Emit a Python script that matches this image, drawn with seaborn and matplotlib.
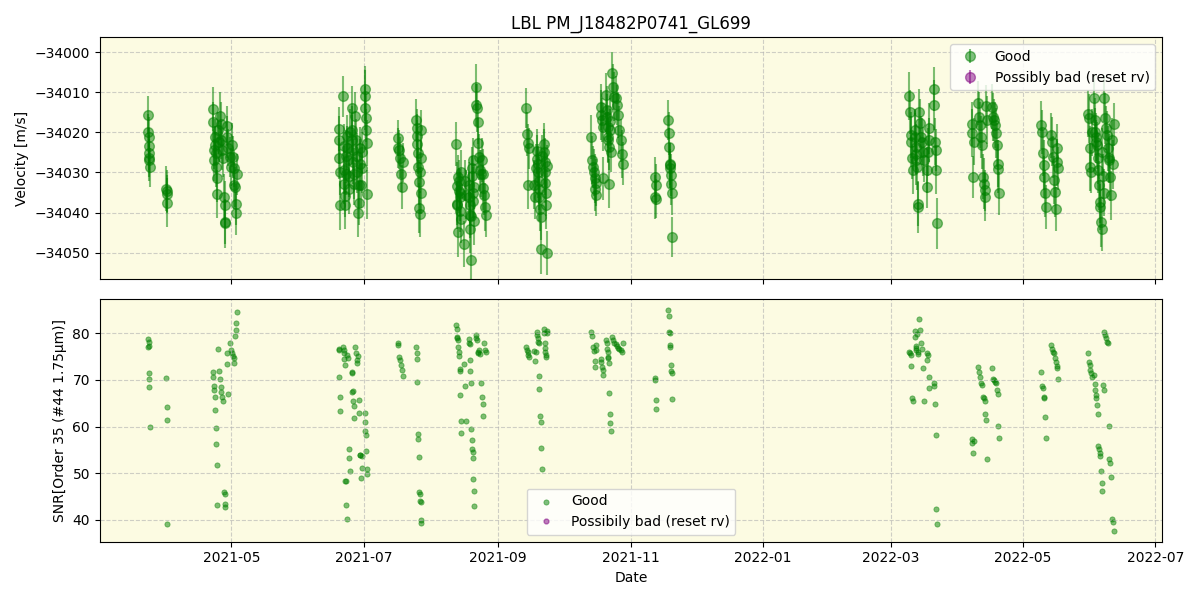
import matplotlib
matplotlib.use("Agg")
import matplotlib.pyplot as plt
import seaborn as sns
import numpy as np
import pandas as pd

# ---- data (days since 2021-03-01, RV [m/s], RV error, SNR) ----
start_date = "2021-03-01"

days = [
    22.6, 22.7, 22.8, 22.9, 23.0, 23.1, 23.2, 23.4,
    31.0, 31.1, 31.2, 31.3,
    52.5, 52.7, 52.9, 53.1, 53.3, 53.5, 53.8, 54.0, 54.2, 54.4,
    55.0, 55.3, 55.6, 56.0, 56.3, 56.6, 57.0,
    57.8, 57.9, 58.0, 58.1,
    59.0, 59.2, 59.4,
    60.6, 61.0, 61.4, 61.8, 62.1, 62.4, 62.7, 63.0, 63.3, 63.6,
    110.4, 110.6, 110.8, 111.0, 111.2,
    112.5, 112.7, 112.9, 113.1, 113.3, 113.5, 113.7, 113.9, 114.1,
    114.5, 114.8, 115.1, 115.4, 115.7,
    116.4, 116.6, 116.8, 117.0, 117.2, 117.4, 117.6,
    118.2, 118.5, 118.8, 119.1,
    119.6, 119.8, 120.0, 120.2, 120.4,
    120.8, 121.1, 121.4,
    122.4, 122.6, 122.8, 123.0, 123.2, 123.4, 123.6,
    137.6, 138.0, 138.4, 138.8, 139.2, 139.6, 140.0,
    146.2, 146.4, 146.6, 146.8, 147.0, 147.2, 147.4, 147.6, 147.8, 148.0, 148.2, 148.4, 148.6,
    164.6, 164.8, 165.0, 165.2, 165.4, 165.6, 165.8, 166.0, 166.2, 166.4, 166.6, 166.8, 167.0,
    168.4, 168.8, 169.2,
    170.4, 170.6, 170.8, 171.0, 171.2, 171.4, 171.6, 171.8, 172.0, 172.2, 172.4, 172.6, 172.8, 173.0,
    173.6, 174.0, 174.3, 174.6, 174.9, 175.2, 175.5, 176.0, 176.4, 176.8, 177.2, 177.6, 178.0, 178.4,
    197.0, 197.3, 197.6, 197.9, 198.2,
    200.4, 200.9, 201.4,
    201.8, 202.0, 202.2, 202.4, 202.6, 202.8, 203.0, 203.3, 203.6, 203.9, 204.2,
    205.0, 205.2, 205.4, 205.6, 205.8, 206.0, 206.2, 206.4, 206.6,
    226.8, 227.2, 227.6, 228.0, 228.4, 228.8, 229.0, 229.2,
    231.2, 231.5, 231.8, 232.1, 232.4,
    233.8, 234.0, 234.2, 234.4, 234.6, 234.8, 235.0, 235.2, 235.4, 235.6, 235.8,
    236.4, 237.0, 237.6, 238.2, 238.8, 239.4, 239.9, 240.4, 240.9, 241.4,
    256.2, 256.4, 256.6, 256.8,
    262.4, 262.6, 262.8, 263.0, 263.2, 263.4, 263.6, 263.8, 264.0, 264.2,
    373.6, 373.9, 374.2, 374.5, 374.8, 375.1,
    376.0, 376.2, 376.4, 376.6, 376.8, 377.0, 377.3, 377.6,
    378.2, 378.6, 379.0, 379.4, 379.8, 380.2,
    381.6, 381.9, 382.2, 382.5, 382.8,
    384.8, 385.0, 385.3, 385.6, 385.9, 386.2,
    402.2, 402.6, 403.0, 403.4,
    405.4, 405.8, 406.2, 406.6, 407.0, 407.4, 407.8, 408.2, 408.6, 409.0, 409.3,
    411.8, 412.2, 412.6, 413.0, 413.4, 413.8, 414.2, 414.6, 415.0,
    434.2, 434.6, 435.0, 435.4, 435.8, 436.2, 436.6,
    439.0, 439.4, 439.8, 440.2, 440.6, 441.0, 441.4, 441.8, 442.2,
    455.8, 456.2, 456.6, 457.0, 457.4, 457.8,
    458.6, 458.9, 459.2, 459.5, 459.8, 460.1, 460.4, 460.7, 461.0, 461.3, 461.6, 461.9, 462.2, 462.5, 462.8, 463.1,
    463.4, 463.8, 464.2, 464.6, 465.0, 465.4, 465.8, 466.2, 466.6, 467.0, 467.4, 467.8,
]

rv = [
    -34015.7, -34019.8, -34021.1, -34023.4, -34025.1, -34026.5, -34026.9, -34028.7,
    -34034.0, -34034.6, -34035.4, -34037.5,
    -34014.2, -34017.5, -34024.4, -34026.9, -34021.1, -34023.2, -34025.2, -34028.6, -34031.5, -34035.4,
    -34019.4, -34022.3, -34015.9, -34017.8, -34021.9, -34024.4, -34026.5,
    -34036.1, -34042.3, -34042.7, -34038.0,
    -34018.4, -34021.1, -34023.8,
    -34026.2, -34028.6, -34023.2, -34026.1, -34029.0, -34033.2, -34033.6, -34037.9, -34040.2, -34030.5,
    -34019.1, -34021.8, -34026.5, -34029.9, -34038.2,
    -34011.0, -34023.5, -34029.4, -34032.8, -34035.8, -34038.2, -34026.0, -34030.5, -34021.0,
    -34024.0, -34027.0, -34031.0, -34034.0, -34020.0,
    -34013.8, -34019.3, -34021.8, -34024.4, -34027.3, -34030.3, -34032.8,
    -34016.0, -34022.0, -34026.0, -34030.0,
    -34040.0, -34037.5, -34033.0, -34028.0, -34024.0,
    -34033.2, -34029.0, -34025.0,
    -34009.1, -34010.8, -34013.8, -34016.3, -34019.3, -34022.7, -34035.4,
    -34021.4, -34023.9, -34024.3, -34026.3, -34030.3, -34033.7, -34027.5,
    -34016.8, -34018.9, -34020.8, -34022.9, -34025.2, -34028.6, -34032.4, -34038.8, -34040.4, -34030.0, -34035.0, -34026.5, -34019.5,
    -34022.9, -34033.4, -34037.8, -34038.2, -34044.8, -34031.1, -34032.0, -34034.5, -34036.0, -34039.5, -34035.0, -34030.0, -34041.5,
    -34047.8, -34032.0, -34035.5,
    -34033.1, -34036.0, -34038.1, -34040.6, -34044.0, -34051.9, -34040.9, -34031.0, -34029.0, -34035.0, -34027.0, -34037.0, -34042.0, -34033.5,
    -34008.6, -34013.2, -34014.0, -34017.5, -34022.6, -34026.2, -34029.4, -34030.3, -34026.9, -34030.3, -34033.8, -34035.7, -34038.6, -34040.7,
    -34013.8, -34020.3, -34022.6, -34033.2, -34024.0,
    -34033.0, -34036.0, -34029.0,
    -34024.6, -34026.7, -34028.0, -34030.0, -34032.0, -34034.0, -34036.0, -34039.0, -34041.0, -34049.0, -34026.0,
    -34023.0, -34025.0, -34027.5, -34030.0, -34032.5, -34035.0, -34038.0, -34050.1, -34028.5,
    -34021.1, -34026.9, -34028.6, -34030.0, -34031.5, -34034.0, -34035.7, -34032.5,
    -34013.6, -34015.7, -34017.0, -34018.6, -34031.5,
    -34010.7, -34014.4, -34016.1, -34018.6, -34021.1, -34022.0, -34023.6, -34032.8, -34019.5, -34017.2, -34025.0,
    -34005.2, -34008.6, -34011.1, -34011.5, -34013.2, -34015.7, -34019.5, -34022.0, -34025.4, -34027.8,
    -34031.1, -34036.1, -34036.5, -34033.0,
    -34016.8, -34020.2, -34023.6, -34027.9, -34028.2, -34029.0, -34030.6, -34032.9, -34035.1, -34046.2,
    -34010.9, -34014.8, -34020.7, -34022.3, -34026.5, -34029.4,
    -34019.5, -34021.1, -34023.6, -34025.3, -34027.0, -34028.6, -34038.6, -34037.8,
    -34014.8, -34017.7, -34021.1, -34022.3, -34024.8, -34026.9,
    -34029.4, -34033.6, -34025.0, -34022.0, -34019.0,
    -34009.2, -34013.1, -34022.3, -34024.4, -34029.4, -34042.7,
    -34017.8, -34020.2, -34031.1, -34022.3,
    -34012.7, -34016.1, -34018.2, -34021.1, -34023.2, -34031.1, -34032.8, -34034.4, -34036.1, -34013.5, -34016.9,
    -34013.6, -34016.1, -34016.9, -34018.2, -34020.2, -34023.2, -34027.8, -34029.1, -34035.2,
    -34018.2, -34019.8, -34025.2, -34028.1, -34031.1, -34035.2, -34038.6,
    -34020.7, -34022.3, -34026.1, -34031.9, -34034.8, -34039.0, -34027.5, -34024.0, -34029.0,
    -34015.3, -34016.5, -34024.0, -34028.6, -34029.8, -34020.0,
    -34011.5, -34017.0, -34019.8, -34021.1, -34022.3, -34023.2, -34026.5, -34029.4, -34033.2, -34037.3, -34038.6, -34042.3, -34044.0, -34025.0, -34031.0, -34035.0,
    -34011.5, -34016.5, -34019.0, -34020.7, -34024.0, -34026.5, -34026.9, -34031.1, -34035.7, -34022.0, -34028.0, -34018.0,
]

rv_err = [
    4.8, 4.5, 5.0, 4.6, 4.4, 4.7, 5.2, 4.9,
    5.5, 5.2, 4.8, 6.0,
    5.5, 5.0, 4.8, 5.2, 4.5, 4.9, 5.3, 5.0, 5.8, 6.0,
    4.6, 5.1, 6.0, 5.5, 4.8, 5.0, 4.7,
    5.8, 5.5, 6.2, 5.9,
    4.9, 5.2, 4.6,
    5.0, 4.8, 5.5, 5.2, 4.6, 5.8, 4.9, 5.1, 5.4, 5.0,
    5.5, 6.0, 5.2, 5.8, 6.2,
    5.2, 5.6, 6.0, 5.0, 5.4, 5.8, 6.5, 5.1, 5.3,
    5.5, 6.0, 5.2, 6.3, 5.8,
    5.4, 5.9, 6.2, 5.0, 5.6, 6.4, 5.2,
    6.0, 5.4, 5.8, 5.1,
    6.2, 5.5, 5.9, 6.4, 5.3,
    5.6, 6.0, 5.2,
    5.8, 6.3, 5.5, 6.0, 5.2, 5.7, 6.1,
    4.5, 5.0, 4.8, 5.2, 4.6, 5.5, 4.9,
    5.2, 4.8, 5.5, 6.0, 5.3, 4.9, 5.6, 6.2, 5.8, 5.0, 5.4, 4.7, 5.1,
    5.5, 6.0, 5.2, 5.8, 6.3, 5.4, 5.0, 5.7, 6.1, 5.3, 5.9, 5.5, 6.2,
    5.8, 5.2, 6.0,
    5.6, 6.0, 5.3, 5.8, 6.2, 5.0, 5.9, 5.1, 5.4, 6.3, 5.7, 5.0, 6.1, 5.5,
    5.8, 5.2, 6.0, 5.5, 6.3, 5.7, 5.1, 5.9, 5.4, 6.2, 5.6, 5.0, 6.1, 5.5,
    5.0, 5.5, 4.8, 5.8, 5.2,
    6.0, 5.5, 6.2,
    5.5, 6.0, 5.2, 6.4, 5.8, 5.3, 6.1, 5.6, 5.9, 6.3, 5.4,
    5.3, 5.8, 6.1, 5.5, 5.0, 5.9, 6.2, 5.6, 5.4,
    5.5, 6.0, 5.3, 5.8, 6.2, 5.6, 5.1, 5.9,
    5.8, 6.2, 5.5, 6.0, 5.3,
    5.5, 6.0, 5.8, 5.2, 6.3, 5.6, 5.9, 6.1, 5.4, 5.7, 5.0,
    5.2, 5.8, 6.1, 5.5, 5.0, 5.7, 6.0, 5.4, 5.9, 5.3,
    5.0, 5.5, 4.8, 5.2,
    5.0, 5.4, 4.8, 5.2, 5.6, 4.9, 5.3, 5.1, 5.5, 5.0,
    6.0, 5.5, 5.8, 6.3, 5.2, 5.9,
    5.4, 6.0, 5.7, 5.2, 6.2, 5.8, 6.4, 5.5,
    5.6, 6.1, 5.3, 5.9, 6.2, 5.4,
    5.8, 5.2, 6.0, 5.5, 6.3,
    5.5, 6.2, 5.8, 5.3, 6.0, 6.4,
    5.5, 6.0, 5.2, 5.8,
    5.5, 6.2, 5.8, 5.3, 6.0, 5.6, 6.3, 5.1, 5.9, 5.4, 6.1,
    5.6, 6.0, 5.3, 5.8, 6.2, 5.5, 5.9, 6.1, 5.4,
    6.0, 5.5, 5.8, 6.2, 5.3, 5.9, 5.6,
    5.6, 6.1, 5.3, 5.9, 6.2, 5.5, 5.8, 6.0, 5.4,
    5.8, 6.2, 5.5, 6.0, 5.3, 5.9,
    6.2, 5.5, 5.8, 6.0, 5.3, 5.9, 6.4, 5.6, 6.1, 5.4, 5.8, 6.3, 5.7, 6.0, 5.5, 5.9,
    5.8, 6.3, 5.5, 6.0, 5.7, 6.2, 5.4, 5.9, 6.1, 5.6, 6.0, 5.3,
]

snr = [
    77.0, 78.7, 70.1, 78.1, 71.4, 77.2, 68.4, 60.0,
    70.4, 64.2, 61.4, 39.1,
    71.6, 70.6, 68.7, 67.9, 66.4, 63.6, 59.7, 56.2, 51.7, 43.3,
    76.7, 71.9, 70.1, 68.4, 67.5, 66.3, 65.4,
    45.9, 45.6, 43.4, 42.7,
    75.7, 73.4, 67.0,
    77.8, 76.4, 75.7, 75.1, 74.6, 73.6, 79.4, 80.6, 82.1, 84.5,
    76.7, 76.5, 70.6, 66.3, 63.3,
    77.0, 76.4, 74.4, 75.7, 73.2, 48.3, 48.4, 43.1, 40.2,
    75.3, 74.6, 55.3, 53.3, 50.5,
    71.6, 71.4, 67.5, 67.7, 65.5, 64.4, 61.9,
    77.0, 75.7, 74.3, 73.7,
    75.1, 65.7, 62.9, 54.0, 53.9,
    48.9, 51.2, 53.7,
    62.9, 61.0, 59.0, 58.3, 54.7, 50.9, 49.9,
    78.0, 77.5, 75.0, 74.2, 73.1, 72.1, 70.9,
    77.1, 75.7, 74.4, 69.5, 58.5, 57.4, 53.5, 45.9, 45.6, 44.1, 43.9, 40.0, 39.3,
    81.7, 81.0, 79.2, 78.9, 78.6, 77.1, 76.0, 75.1, 72.3, 72.0, 66.8, 61.3, 58.7,
    73.5, 68.6, 61.1,
    78.7, 78.0, 77.7, 74.3, 71.9, 69.3, 59.5, 57.1, 55.3, 54.5, 53.3, 48.7, 46.2, 43.0,
    78.9, 79.6, 78.6, 76.0, 75.8, 76.3, 75.5, 69.3, 66.4, 64.8, 62.3, 77.8, 76.5, 75.9,
    77.1, 76.5, 76.0, 75.3, 74.8,
    76.2, 74.1, 76.0,
    79.6, 80.3, 78.9, 78.2, 77.8, 70.9, 68.0, 62.3, 61.0, 55.5, 51.0,
    80.8, 80.1, 77.8, 76.8, 76.0, 75.3, 74.8, 80.0, 80.5,
    80.3, 79.4, 77.0, 76.2, 74.1, 72.7, 76.5, 77.4,
    74.4, 73.9, 72.8, 72.1, 71.1,
    78.5, 77.8, 76.7, 76.0, 74.9, 74.6, 73.7, 67.2, 62.8, 60.8, 59.1,
    79.2, 78.5, 77.9, 77.6, 77.2, 76.9, 76.7, 76.4, 76.0, 78.0,
    70.4, 70.0, 65.7, 63.8,
    84.9, 83.6, 80.3, 80.0, 77.4, 77.1, 73.2, 72.0, 71.4, 66.0,
    76.0, 75.7, 75.3, 73.0, 66.1, 65.4,
    80.5, 79.2, 77.2, 76.9, 76.5, 79.9, 76.0, 75.5,
    83.1, 80.6, 77.8, 76.7, 72.5, 65.4,
    75.7, 74.3, 75.3, 70.6, 68.2,
    69.3, 68.7, 64.8, 58.3, 42.3, 39.1,
    57.4, 56.5, 54.4, 56.9,
    72.7, 71.8, 70.7, 69.3, 68.9, 66.4, 66.1, 65.4, 62.6, 61.5, 53.1,
    72.5, 70.2, 70.0, 69.6, 69.3, 67.9, 67.0, 60.2, 57.6,
    71.6, 68.6, 68.2, 66.4, 66.1, 62.1, 57.6,
    77.4, 76.7, 76.0, 75.7, 74.6, 73.9, 73.0, 72.5, 70.1,
    75.7, 73.9, 73.2, 72.1, 71.4, 70.6,
    71.1, 69.1, 67.9, 66.8, 66.1, 64.7, 62.8, 55.8, 55.2, 54.4, 53.7, 50.5, 48.0, 46.2, 69.0, 67.8,
    80.3, 79.6, 78.9, 78.2, 77.8, 60.1, 53.1, 52.3, 49.1, 40.2, 39.5, 37.7,
]

title = "LBL PM_J18482P0741_GL699"
good_label = "Good"
bad_label = "Possibly bad (reset rv)"
bad_label_snr = "Possibily bad (reset rv)"
rv_limits = (-34056.7, -33996.2)

# ---- build frame ----
n = min(len(days), len(rv), len(rv_err), len(snr))
dates = pd.Timestamp(start_date) + pd.to_timedelta(np.array(days[:n]), unit="D")
df = pd.DataFrame({"date": dates, "rv": rv[:n], "err": rv_err[:n], "snr": snr[:n]})
empty = pd.DataFrame({"date": pd.to_datetime([]), "rv": [], "err": [], "snr": []})

fig, (ax1, ax2) = plt.subplots(2, 1, figsize=(12, 6), dpi=100, sharex=True)
bg = "#fcfbe2"

ax1.errorbar(df["date"], df["rv"], yerr=df["err"], fmt="o", color="green",
             alpha=0.5, markersize=7, elinewidth=1.5, capsize=0, label=good_label)
ax1.errorbar(empty["date"], empty["rv"], yerr=empty["err"], fmt="o", color="purple",
             alpha=0.5, markersize=7, capsize=0, label=bad_label)
ax1.set_facecolor(bg)
ax1.grid(True, linestyle="--", color="#b0b0b0", alpha=0.6)
ax1.set_ylabel("Velocity [m/s]")
ax1.set_title(title)
ax1.set_yticks([-34000, -34010, -34020, -34030, -34040, -34050])
ax1.set_ylim(*rv_limits)
ax1.legend(loc="upper right")
ax1.tick_params(labelbottom=False)

sns.scatterplot(data=df, x="date", y="snr", ax=ax2, color="green", alpha=0.5,
                s=14, linewidth=0.6, edgecolor="green", label=good_label)
ax2.plot([], [], "o", color="purple", alpha=0.5, markersize=3.5, label=bad_label_snr)
ax2.set_facecolor(bg)
ax2.grid(True, linestyle="--", color="#b0b0b0", alpha=0.6)
ax2.set_ylabel("SNR[Order 35 (#44 1.75\u03bcm)]")
ax2.set_xlabel("Date")
ax2.set_yticks([40, 50, 60, 70, 80])
ax2.legend(loc="lower center")

fig.tight_layout()
fig.savefig("out.png", dpi=100)
